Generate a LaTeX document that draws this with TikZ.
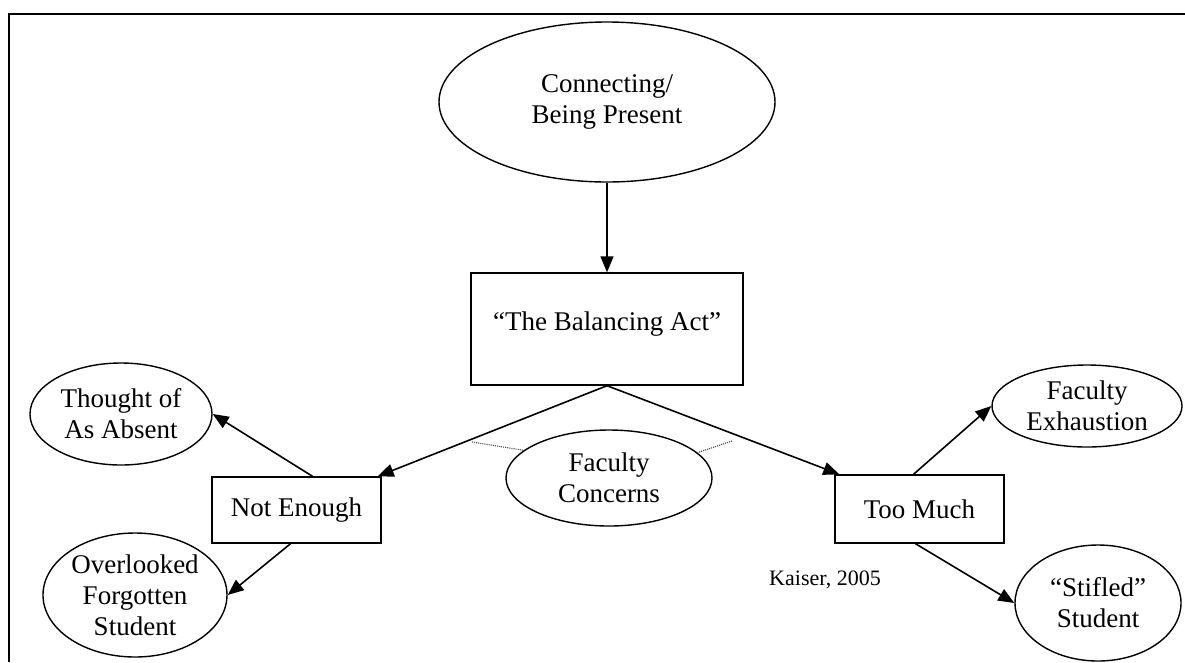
\documentclass[tikz,border=0pt]{standalone}
\usepackage{fontspec}
\setmainfont{Liberation Serif}
\usetikzlibrary{shapes.geometric,arrows.meta}
\begin{document}
\begin{tikzpicture}[x=1pt,y=-1pt,
  txt/.style={font=\fontsize{27}{31}\selectfont, align=center, text=black},
  ell/.style={txt, draw, ellipse, inner sep=0pt, line width=1.4pt},
  boxnode/.style={txt, draw, rectangle, inner sep=0pt, line width=1.4pt},
  conn/.style={line width=1.6pt, -{Triangle[length=16pt,width=13pt]}},
  dots/.style={black!70, densely dotted, line width=1.1pt},
  frame/.style={line width=2.4pt}]
\useasboundingbox (0,0) rectangle (1185,662);
% frame
\coordinate (fbl) at (9,662);
\coordinate (ftl) at (9,14);
\coordinate (ftr) at (1185,14);
\draw[frame] (fbl) -- (ftl) -- (ftr);

% nodes
\node[ell, minimum width=336pt, minimum height=160pt] (cbp) at (607,102) {Connecting/\\Being Present};
\node[boxnode, minimum width=272pt, minimum height=112pt] (bal) at (607,329) {“The Balancing Act”\\[-16pt]};
\node[boxnode, minimum width=169pt, minimum height=66pt] (ne) at (296.5,510) {Not Enough};
\node[boxnode, minimum width=169pt, minimum height=68pt] (tm) at (919.5,509) {Too Much};
\node[ell, minimum width=206pt, minimum height=96pt] (fc) at (609,478) {Faculty\\Concerns};
\node[ell, minimum width=182pt, minimum height=102pt] (tho) at (121,414) {Thought of\\As Absent};
\node[ell, minimum width=184pt, minimum height=124pt] (ovl) at (135,595) {Overlooked\\Forgotten\\Student};
\node[ell, minimum width=190pt, minimum height=82pt] (exh) at (1087,406) {Faculty\\Exhaustion};
\node[ell, minimum width=166pt, minimum height=116pt] (sti) at (1098,603) {“Stifled”\\Student};
\node[font=\fontsize{22}{25}\selectfont] (kai) at (825,580) {Kaiser, 2005};

% connectors
\draw[conn] (cbp.south) -- (bal.north);
\draw[conn] (bal.south) -- ([xshift=-4pt]ne.north east);
\draw[conn] (bal.south) -- ([xshift=5pt]tm.north west);
\draw[conn] ([xshift=16pt]ne.north) -- (tho.east);
\draw[conn] ([xshift=-6pt]ne.south) -- (ovl.east);
\draw[conn] ([xshift=-6pt]tm.north) -- (exh.west);
\draw[conn] ([xshift=-4pt]tm.south) -- (sti.west);

% dotted lines to Faculty Concerns
\coordinate (dl) at (472,442);
\coordinate (dr) at (732,441);
\draw[dots] (dl) -- (fc.162);
\draw[dots] (dr) -- (fc.16);
\end{tikzpicture}
\end{document}
